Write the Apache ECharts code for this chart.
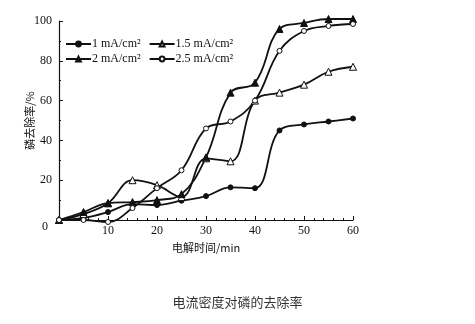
<!DOCTYPE html>
<html>
<head>
<meta charset="utf-8">
<script src="https://cdn.jsdelivr.net/npm/echarts@6/dist/echarts.min.js"></script>
<style>
  html, body { margin: 0; padding: 0; background: #fff; }
  #chart { width: 475px; height: 324px; }
</style>
</head>
<body>
<div id="chart"></div>
<script>
// Electrolysis time (min)
const times = [0, 5, 10, 15, 20, 25, 30, 35, 40, 45, 50, 55, 60];

// Phosphorus removal rate (%) for each current density
const rate1 = [0, 1, 4, 8, 7.5, 9.7, 12, 16.4, 16, 45, 48, 49.5, 51];
const rate15 = [0, 3, 8.4, 20, 17.5, 11.5, 31, 29.5, 60, 64, 68, 74.5, 77];
const rate2 = [0, 4, 8.5, 9, 10, 13, 31.5, 64, 69, 96, 99, 101, 101];
const rate25 = [0, 0, -1, 6, 16, 25, 46, 49.5, 60, 85, 95, 97.5, 98.5];

const seriesNames = ['1 mA/cm²', '1.5 mA/cm²', '2 mA/cm²', '2.5 mA/cm²'];
const seriesValues = [rate1, rate15, rate2, rate25];
const seriesSymbols = ['circle', 'triangle', 'triangle', 'circle'];
const seriesFilled = [true, false, true, false];

const yTicks = [0, 20, 40, 60, 80, 100];
const xTicks = [10, 20, 30, 40, 50, 60];

const ink = '#111';
const serif = '"Liberation Serif", "DejaVu Serif", serif';
const cjk = '"Noto Sans CJK SC", sans-serif';

const chart = echarts.init(document.getElementById('chart'));

const series = seriesNames.map((name, i) => ({
  name: name,
  type: 'line',
  smooth: 0.4,
  clip: false,
  symbol: seriesSymbols[i],
  symbolSize: seriesSymbols[i] === 'triangle' ? 7 : 5,
  data: times.map((t, j) => [t, seriesValues[i][j]]),
  lineStyle: { color: ink, width: 1.8 },
  itemStyle: {
    color: seriesFilled[i] ? ink : '#fff',
    borderColor: ink,
    borderWidth: 1
  },
  emphasis: { disabled: true }
}));

const legendCommon = {
  orient: 'horizontal',
  itemWidth: 25,
  itemHeight: 6,
  itemGap: 8,
  textStyle: { fontFamily: serif, fontSize: 12, color: ink, padding: [0, 0, 0, -4] },
  selectedMode: false
};

chart.setOption({
  backgroundColor: '#fff',
  animation: false,
  title: {
    text: '电流密度对磷的去除率',
    left: 'center',
    top: 291,
    textStyle: { fontFamily: cjk, fontSize: 13, fontWeight: 'normal', color: '#333' }
  },
  legend: [
    Object.assign({ data: [seriesNames[0], seriesNames[1]], left: 60, top: 33 }, legendCommon),
    Object.assign({ data: [seriesNames[2], seriesNames[3]], left: 60, top: 48 }, legendCommon)
  ],
  grid: { left: 59, right: 122, top: 21, bottom: 104 },
  xAxis: {
    type: 'value',
    min: 0,
    max: 60,
    interval: 10,
    name: '电解时间/min',
    nameLocation: 'middle',
    nameGap: 22,
    nameTextStyle: { fontFamily: cjk, fontSize: 11, color: ink },
    axisLine: { lineStyle: { color: ink, width: 1.2 } },
    axisTick: { inside: true, length: 4, lineStyle: { color: ink } },
    minorTick: { show: true, splitNumber: 5, length: 2, lineStyle: { color: ink } },
    splitLine: { show: false },
    axisLabel: {
      fontFamily: serif,
      fontSize: 12,
      color: ink,
      margin: 5,
      formatter: v => (xTicks.includes(v) ? String(v) : '')
    }
  },
  yAxis: {
    type: 'value',
    min: 0,
    max: 100,
    interval: 20,
    name: '磷去除率/%',
    nameLocation: 'middle',
    nameGap: 24,
    nameMoveOverlap: false,
    nameTextStyle: { fontFamily: cjk, fontSize: 11, color: ink },
    axisLine: { show: true, lineStyle: { color: ink, width: 1.2 } },
    axisTick: { show: true, inside: true, length: 4, lineStyle: { color: ink } },
    minorTick: { show: true, splitNumber: 2, length: 2, lineStyle: { color: ink } },
    splitLine: { show: false },
    axisLabel: {
      fontFamily: serif,
      fontSize: 12,
      color: ink,
      margin: 7,
      formatter: v => (v === 0 ? '{z|0}' : (yTicks.includes(v) ? String(v) : '')),
      rich: { z: { fontFamily: serif, fontSize: 12, color: ink, padding: [14, 4, 0, 0] } }
    }
  },
  series: series
});
</script>
</body>
</html>
